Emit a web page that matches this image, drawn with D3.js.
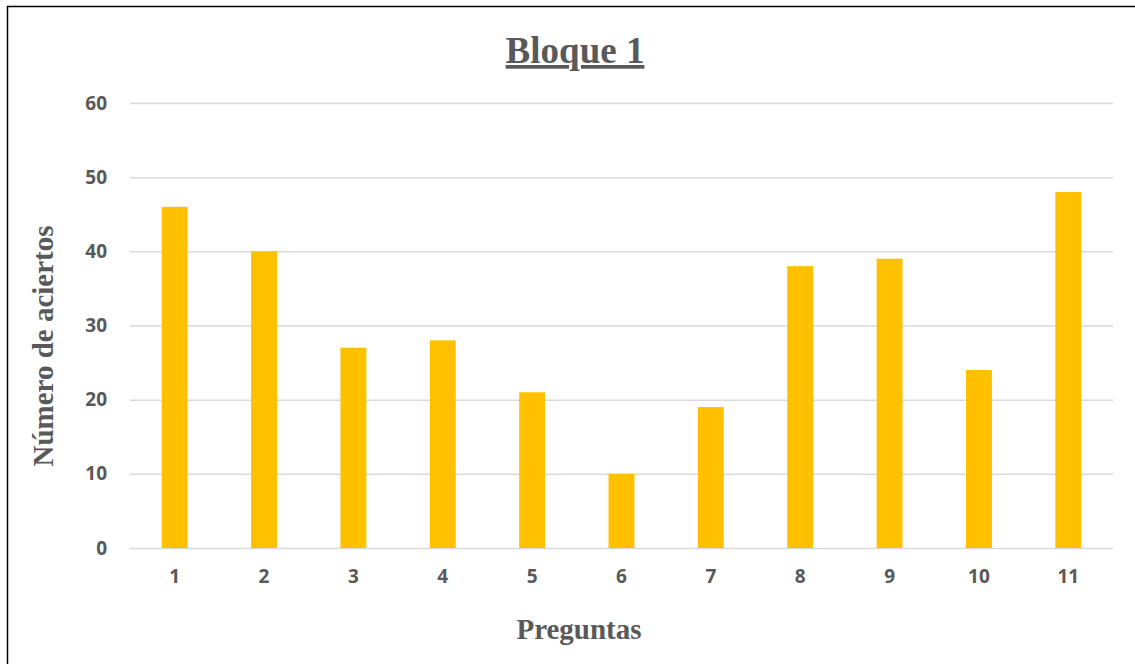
<!DOCTYPE html>
<html>
<head>
<meta charset="utf-8">
<script src="https://cdn.jsdelivr.net/npm/d3@7"></script>
<style>
  body { margin: 0; background: #fff; }
</style>
</head>
<body>
<div id="chart"></div>
<script>
// questions and correct answers
var preguntas = ["1", "2", "3", "4", "5", "6", "7", "8", "9", "10", "11"];
var aciertos = [46, 40, 27, 28, 21, 10, 19, 38, 39, 24, 48];
var yTicks = [0, 10, 20, 30, 40, 50, 60];

const W = 1135, H = 664;
const margin = {top: 103, right: 22, bottom: 116, left: 130},
    width = W - margin.left - margin.right,
    height = H - margin.top - margin.bottom;

const svg = d3.select("#chart")
  .append("svg")
    .attr("width", W)
    .attr("height", H);

// outer frame (right/bottom run off the picture)
svg.append("rect")
  .attr("x", 7.5).attr("y", 6.5)
  .attr("width", W + 10).attr("height", H + 10)
  .attr("fill", "none")
  .attr("stroke", "#000")
  .attr("stroke-width", 1.5);

const g = svg.append("g")
  .attr("transform", `translate(${margin.left},${margin.top})`);

const x = d3.scaleBand()
  .domain(preguntas)
  .range([0, width])
  .paddingInner(0.71)
  .paddingOuter(0.355);

const y = d3.scaleLinear()
  .domain([0, 60])
  .range([height, 0]);

// gridlines
g.append("g")
  .call(d3.axisLeft(y).tickValues(yTicks).tickSize(-width).tickFormat(""))
  .call(a => a.select(".domain").remove())
  .selectAll("line")
    .attr("stroke", "#d9d9d9")
    .attr("stroke-width", 1.5);

// bars
g.selectAll(".bar")
  .data(aciertos)
  .join("rect")
    .attr("class", "bar")
    .attr("x", (d, i) => x(preguntas[i]))
    .attr("y", d => y(d))
    .attr("width", x.bandwidth())
    .attr("height", d => height - y(d))
    .attr("fill", "#ffc000");

// y axis labels
g.append("g")
  .call(d3.axisLeft(y).tickValues(yTicks).tickSize(0).tickPadding(23))
  .call(a => a.select(".domain").remove())
  .selectAll("text")
    .attr("fill", "#595959")
    .style("font-family", "'Open Sans', sans-serif")
    .style("font-weight", "bold")
    .style("font-size", "19px");

// x axis labels
g.append("g")
  .attr("transform", `translate(0,${height})`)
  .call(d3.axisBottom(x).tickSize(0).tickPadding(22))
  .call(a => a.select(".domain").remove())
  .selectAll("text")
    .attr("fill", "#595959")
    .style("font-family", "'Open Sans', sans-serif")
    .style("font-weight", "bold")
    .style("font-size", "19px");

// title
svg.append("text")
  .attr("x", 575)
  .attr("y", 63)
  .attr("text-anchor", "middle")
  .attr("fill", "#595959")
  .style("font-family", "'Liberation Serif', 'Times New Roman', serif")
  .style("font-weight", "bold")
  .style("font-size", "37px")
  .style("text-decoration", "underline")
  .text("Bloque 1");

// axis titles
svg.append("text")
  .attr("transform", "translate(53,346) rotate(-90)")
  .attr("text-anchor", "middle")
  .attr("fill", "#595959")
  .style("font-family", "'Liberation Serif', 'Times New Roman', serif")
  .style("font-weight", "bold")
  .style("font-size", "29px")
  .text("Número de aciertos");

svg.append("text")
  .attr("x", 579)
  .attr("y", 639)
  .attr("text-anchor", "middle")
  .attr("fill", "#595959")
  .style("font-family", "'Liberation Serif', 'Times New Roman', serif")
  .style("font-weight", "bold")
  .style("font-size", "29px")
  .text("Preguntas");
</script>
</body>
</html>
